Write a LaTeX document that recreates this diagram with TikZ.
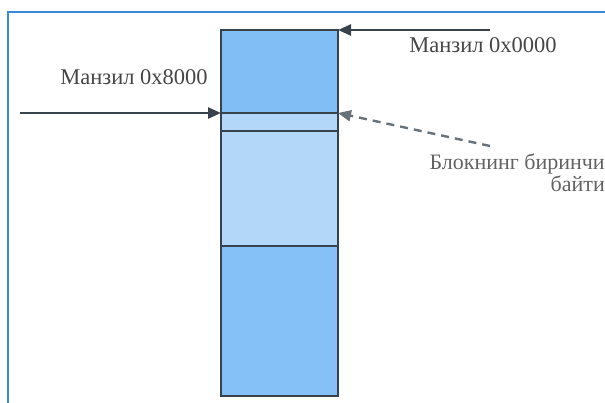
\documentclass[tikz,border=0pt]{standalone}
\usepackage{fontspec}
\setmainfont{Liberation Serif}
\usetikzlibrary{
  arrows.meta,
  positioning
}
\definecolor{FrameBlue}{RGB}{58,138,216}
\definecolor{DeepBlock}{RGB}{128,190,245}
\definecolor{PaleBlock}{RGB}{178,215,249}
\definecolor{MidBlock}{RGB}{133,192,246}
\definecolor{LineGray}{RGB}{55,66,76}
\definecolor{LabelGray}{RGB}{70,70,70}
\tikzset{
  memblock/.style={draw=LineGray,line width=2.4pt,minimum width=117pt,inner sep=0pt,outer sep=0pt},
  addrarrow/.style={-{Triangle[length=13pt,width=11pt]},line width=2.4pt,draw=LineGray},
  hintarrow/.style={-{Triangle[length=13pt,width=11pt]},line width=2.4pt,dash pattern=on 8pt off 6pt,draw=LineGray!75},
  addrlabel/.style={font=\fontsize{22.5}{24}\selectfont,text=LabelGray,inner sep=0pt}
}
\begin{document}
\begin{tikzpicture}[x=1pt,y=-1pt]
\useasboundingbox (0,0) rectangle (605,402);
\draw[FrameBlue,line width=2.5pt] (8,420) -- (8,12) -- (620,12);

\node[memblock,fill=DeepBlock,minimum height=83pt] (blk1) at (279.5,71.5) {};
\node[memblock,fill=PaleBlock,minimum height=18pt,below=0pt of blk1] (blk2) {};
\node[memblock,fill=PaleBlock,minimum height=115pt,below=0pt of blk2] (blk3) {};
\node[memblock,fill=MidBlock,minimum height=150pt,below=0pt of blk3] (blk4) {};

\coordinate (topfrom) at (490,30);
\coordinate (leftfrom) at (20,113);
\coordinate (hintfrom) at (490,146);

\draw[addrarrow] (topfrom) -- (blk1.north east);
\draw[addrarrow] (leftfrom) -- (blk1.south west);
\draw[hintarrow] (hintfrom) -- (blk1.south east);

\node[addrlabel] (lbltop) at (483,45) {Манзил 0x0000};
\node[addrlabel] (lblleft) at (134,77) {Манзил 0x8000};
\node[addrlabel,align=right,anchor=north east,font=\fontsize{22}{19}\selectfont,text=LabelGray!85] (lblhint) at (605,154) {Блокнинг биринчи\\байти};
\end{tikzpicture}
\end{document}
